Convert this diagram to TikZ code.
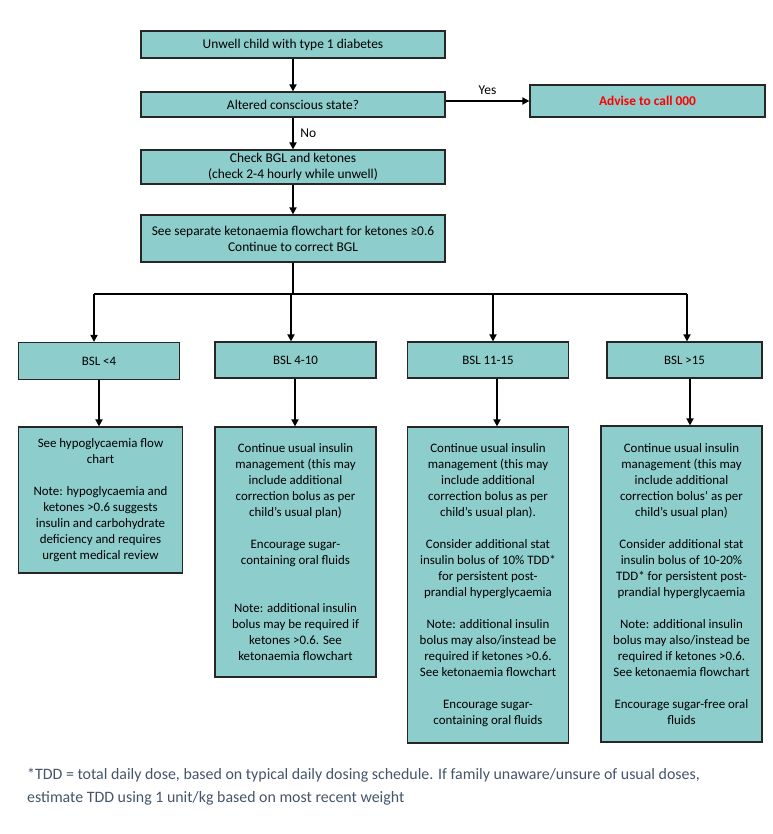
\documentclass[tikz,border=0pt]{standalone}
\usepackage{fontspec}
\setmainfont{Carlito}
\usepackage{xcolor}
\usetikzlibrary{arrows.meta}
\definecolor{boxteal}{RGB}{141,205,204}
\definecolor{notegrey}{RGB}{68,84,106}
\definecolor{alertred}{RGB}{255,0,0}

\begin{document}
\begin{tikzpicture}[x=1pt, y=-1pt,
	flowbox/.style={draw=black!85, line width=1.2pt, fill=boxteal, align=center, inner sep=0pt, font=\fontsize{12.9}{16}\selectfont},
	headbox/.style={flowbox, font=\fontsize{13.4}{16}\selectfont},
	flowarrow/.style={line width=2pt, -{Triangle[length=7pt,width=7pt]}},
	flowline/.style={line width=2pt}]
	\useasboundingbox (0,0) rectangle (772,834);
	% top column
	\node[headbox, minimum width=304pt, minimum height=27pt] (start) at (293,44.5) {Unwell child with type 1 diabetes};
	\node[headbox, minimum width=304pt, minimum height=25pt] (altered) at (293,104.5) {Altered conscious state?};
	\node[headbox, minimum width=235pt, minimum height=32pt, font=\fontsize{13.4}{16}\selectfont\bfseries, text=alertred] (advise) at (647.5,101) {Advise to call 000};
	\node[headbox, minimum width=304pt, minimum height=34pt] (check) at (293,167) {Check BGL and ketones\\(check 2-4 hourly while unwell)};
	\node[headbox, minimum width=304pt, minimum height=47pt] (keto) at (293,238.5) {See separate ketonaemia flowchart for ketones ≥0.6\\Continue to correct BGL};
	\draw[flowarrow] (start) -- (altered);
	\draw[flowarrow] (altered.east |- advise.west) -- (advise.west) node[midway, above=2pt, font=\fontsize{13.5}{14}\selectfont] {Yes};
	\draw[flowarrow] (altered) -- (check) node[midway, right=3pt, font=\fontsize{13.5}{14}\selectfont] {No};
	\draw[flowarrow] (check) -- (keto);
	% branches
	\coordinate (b1) at (94,294);
	\coordinate (b2) at (291,294);
	\coordinate (b3) at (493,294);
	\coordinate (b4) at (687,294);
	\draw[flowline] (keto.south) -- (keto.south |- b1);
	\draw[flowline] (b1) -- (b4);
	\node[flowbox, minimum width=161pt, minimum height=37pt] (bsl1) at (99,361) {BSL <4};
	\node[flowbox, minimum width=161pt, minimum height=36pt] (bsl2) at (295.5,360) {BSL 4-10};
	\node[flowbox, minimum width=161pt, minimum height=36pt] (bsl3) at (488,360) {BSL 11-15};
	\node[flowbox, minimum width=155pt, minimum height=36pt] (bsl4) at (684.5,360) {BSL >15};
	\draw[flowarrow] (b1) -- (b1 |- bsl1.north);
	\draw[flowarrow] (b2) -- (b2 |- bsl2.north);
	\draw[flowarrow] (b3) -- (b3 |- bsl3.north);
	\draw[flowarrow] (b4) -- (b4 |- bsl4.north);
	% actions
	\node[flowbox, minimum width=164pt, minimum height=146pt] (act1) at (100.5,500) {See hypoglycaemia flow\\chart\\[16pt]Note: hypoglycaemia and\\ketones >0.6 suggests\\insulin and carbohydrate\\deficiency and requires\\urgent medical review};
	\node[flowbox, minimum width=161pt, minimum height=250pt] (act2) at (295.5,552) {Continue usual insulin\\management (this may\\include additional\\correction bolus as per\\child’s usual plan)\\[16pt]Encourage sugar-\\containing oral fluids\\[32pt]Note: additional insulin\\bolus may be required if\\ketones >0.6. See\\ketonaemia flowchart};
	\node[flowbox, minimum width=161pt, minimum height=316pt] (act3) at (488,585) {Continue usual insulin\\management (this may\\include additional\\correction bolus as per\\child’s usual plan).\\[16pt]Consider additional stat\\insulin bolus of 10\% TDD*\\for persistent post-\\prandial hyperglycaemia\\[16pt]Note: additional insulin\\bolus may also/instead be\\required if ketones >0.6.\\See ketonaemia flowchart\\[16pt]Encourage sugar-\\containing oral fluids};
	\node[flowbox, minimum width=161pt, minimum height=316pt] (act4) at (681.5,584) {Continue usual insulin\\management (this may\\include additional\\correction bolus’ as per\\child’s usual plan)\\[16pt]Consider additional stat\\insulin bolus of 10-20\%\\TDD* for persistent post-\\prandial hyperglycaemia\\[16pt]Note: additional insulin\\bolus may also/instead be\\required if ketones >0.6.\\See ketonaemia flowchart\\[16pt]Encourage sugar-free oral\\fluids};
	\draw[flowarrow] (bsl1.south) -- (bsl1.south |- act1.north);
	\draw[flowarrow] ([xshift=-0.5pt]bsl2.south) -- ([xshift=-0.5pt]bsl2.south |- act2.north);
	\draw[flowarrow] ([xshift=9pt]bsl3.south) -- ([xshift=9pt]bsl3.south |- act3.north);
	\draw[flowarrow] ([xshift=5.5pt]bsl4.south) -- ([xshift=5.5pt]bsl4.south |- act4.north);
	% footnote
	\node[anchor=west, align=left, inner sep=0pt, text=notegrey, font=\fontsize{15.9}{23}\selectfont] (note) at (27,786.5) {*TDD = total daily dose, based on typical daily dosing schedule. If family unaware/unsure of usual doses,\\estimate TDD using 1 unit/kg based on most recent weight};
\end{tikzpicture}
\end{document}
